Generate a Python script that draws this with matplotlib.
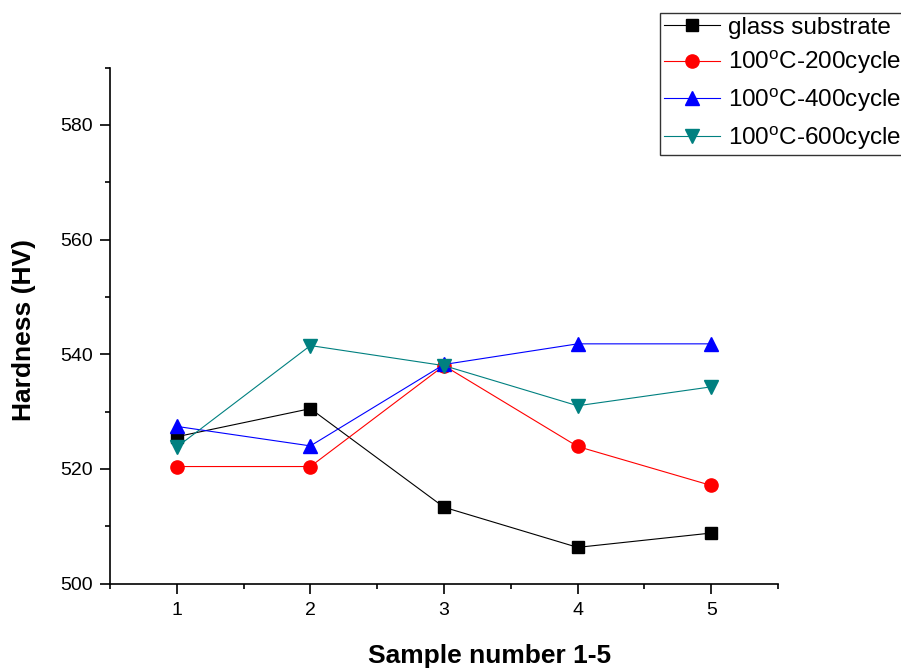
import matplotlib
matplotlib.use("Agg")
import matplotlib.pyplot as plt
from matplotlib.ticker import MultipleLocator

plt.rcParams['font.family'] = ['Liberation Sans', 'DejaVu Sans']
plt.rcParams['mathtext.fontset'] = 'custom'
plt.rcParams['mathtext.rm'] = 'Liberation Sans'

samples = [1, 2, 3, 4, 5]
glass = [525.6, 530.5, 513.3, 506.3, 508.8]
c200 = [520.4, 520.4, 538.0, 523.9, 517.1]
c400 = [527.4, 524.0, 538.2, 541.8, 541.8]
c600 = [523.8, 541.5, 538.0, 531.0, 534.3]
labels = ["glass substrate", "100$^\\mathrm{o}$C-200cycle",
          "100$^\\mathrm{o}$C-400cycle", "100$^\\mathrm{o}$C-600cycle"]

fig = plt.figure(figsize=(9.01, 6.68), dpi=100)
ax = fig.add_axes([110/901, 1-583.5/668, (778-110)/901, (583.5-67.5)/668])

lw = 0.8
ax.plot(samples, glass, color='#000000', lw=lw, marker='s', ms=8.5, label=labels[0])
ax.plot(samples, c200, color='#ff0000', lw=lw, marker='o', ms=9.5, label=labels[1])
ax.plot(samples, c400, color='#0000ff', lw=lw, marker='^', ms=10.5, label=labels[2])
ax.plot(samples, c600, color='#008080', lw=lw, marker='v', ms=10.5, label=labels[3])

ax.set_xlim(0.5, 5.5)
ax.set_ylim(500, 590)
ax.xaxis.set_major_locator(MultipleLocator(1))
ax.xaxis.set_minor_locator(MultipleLocator(0.5))
ax.yaxis.set_minor_locator(MultipleLocator(10))
ax.set_yticks([500, 520, 540, 560, 580])
for s in ['top', 'right']:
    ax.spines[s].set_visible(False)
for s in ['left', 'bottom']:
    ax.spines[s].set_linewidth(1.2)
ax.tick_params(which='major', direction='out', length=7, width=1.2, labelsize=14)
ax.tick_params(axis='y', which='major', pad=5)
ax.tick_params(axis='x', which='major', pad=6)
ax.tick_params(which='minor', direction='out', length=3.5, width=1.2)

ax.set_xlabel("Sample number 1-5", fontsize=19, fontweight='bold')
ax.xaxis.set_label_coords((490-110)/668, -(663-583.5)/516, transform=ax.transAxes)
ax.xaxis.label.set_va('baseline')
ax.set_ylabel("Hardness (HV)", fontsize=19, fontweight='bold')
ax.yaxis.set_label_coords(-(110-12)/668, (583.5-330)/516, transform=ax.transAxes)
ax.yaxis.label.set_va('top')

leg = fig.legend(loc='upper left', bbox_to_anchor=(660/901, 1-13/668), fontsize=17.5,
                 frameon=True, fancybox=False, edgecolor='#333333', framealpha=1,
                 handlelength=2.3, borderpad=0.15, labelspacing=0.4, handletextpad=0.35,
                 borderaxespad=0)
leg.get_frame().set_linewidth(1.0)

fig.savefig("out.png", dpi=100)
